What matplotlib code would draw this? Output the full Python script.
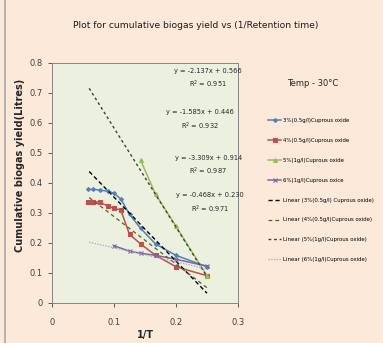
import numpy as np
import matplotlib
matplotlib.use("Agg")
import matplotlib.pyplot as plt
from matplotlib.lines import Line2D

plt.rcParams['font.family'] = ['Liberation Sans Narrow', 'DejaVu Sans Condensed', 'DejaVu Sans']

# 1/T (per day) and cumulative biogas yield (litres)
x_3pct = [0.0588, 0.0667, 0.0769, 0.0909, 0.100, 0.111, 0.125, 0.143, 0.167, 0.200, 0.250]
y_3pct = [0.378, 0.378, 0.376, 0.372, 0.365, 0.346, 0.295, 0.248, 0.196, 0.158, 0.120]
x_4pct = [0.0588, 0.0667, 0.0769, 0.0909, 0.100, 0.111, 0.125, 0.143, 0.167, 0.200, 0.250]
y_4pct = [0.337, 0.337, 0.335, 0.322, 0.315, 0.309, 0.228, 0.196, 0.158, 0.120, 0.090]
x_5pct = [0.143, 0.167, 0.200, 0.250]
y_5pct = [0.475, 0.362, 0.255, 0.090]
x_6pct = [0.100, 0.125, 0.143, 0.167, 0.200, 0.250]
y_6pct = [0.190, 0.172, 0.165, 0.158, 0.145, 0.122]

series_labels = ['3%(0.5g/l)Cuprous oxide', '4%(0.5g/l)Cuprous oxide',
                 '5%(1g/l)Cuprous oxide', '6%(1g/l)Cuprous oxice']
trend_labels = ['Linear (3%(0.5g/l) Cuprous oxide)', 'Linear (4%(0.5g/l)Cuprous oxide)',
                'Linear (5%(1g/l)Cuprous oxide)', 'Linear (6%(1g/l)Cuprous oxide)']

# linear trend lines: slope, intercept, R^2
slopes = [-2.137, -1.585, -3.309, -0.468]
intercepts = [0.566, 0.446, 0.914, 0.230]
r2 = [0.951, 0.932, 0.987, 0.971]
trend_x = [0.06, 0.25]

# where each equation box sits (data coords)
eq_x = [0.252, 0.239, 0.252, 0.255]
eq_y = [0.746, 0.609, 0.456, 0.332]

colors = ['#4F81BD', '#C0504D', '#9BBB59', '#8064A2']
markers = ['D', 's', '^', 'x']
msizes = [2.0, 2.2, 2.8, 3.0]
trend_styles = [
    dict(color='black', dashes=(3, 2), lw=1.0),
    dict(color='#4F6228', dashes=(3, 2.5), lw=0.9),
    dict(color='#404040', dashes=(2, 2), lw=1.0),
    dict(color='#93A9C4', dashes=(1, 1.2), lw=0.9),
]

fig = plt.figure(figsize=(3.83, 3.43), dpi=100)
fig.patch.set_facecolor('#FDE9D9')
fig.add_artist(Line2D([4.5 / 383, 4.5 / 383], [0, 1], color='#A6A6A6', lw=1.2))

ax = fig.add_axes([52 / 383, 40.3 / 343, 186 / 383, 239.7 / 343])
ax.set_facecolor('#EBF1DE')

xs = [x_3pct, x_4pct, x_5pct, x_6pct]
ys = [y_3pct, y_4pct, y_5pct, y_6pct]
handles = []
for i in range(4):
    h, = ax.plot(xs[i], ys[i], color=colors[i], marker=markers[i], ms=msizes[i],
                 mew=0.8, lw=1.1, label=series_labels[i])
    handles.append(h)

tx = np.array(trend_x)
for i in range(4):
    h, = ax.plot(tx, slopes[i] * tx + intercepts[i], label=trend_labels[i], **trend_styles[i])
    handles.append(h)
    ax.text(eq_x[i], eq_y[i], 'y = %.3fx + %.3f\nR$^2$ = %.3f' % (slopes[i], intercepts[i], r2[i]),
            ha='center', va='center', fontsize=4.8, linespacing=1.6, color='#262626')

ax.set_xlim(0, 0.3)
ax.set_ylim(0, 0.8)
ax.set_xticks([0, 0.1, 0.2, 0.3])
ax.set_yticks(np.arange(0, 0.81, 0.1))
ax.set_xticklabels(['0', '0.1', '0.2', '0.3'])
ax.set_yticklabels(['0', '0.1', '0.2', '0.3', '0.4', '0.5', '0.6', '0.7', '0.8'])
ax.tick_params(labelsize=6, colors='#404040', length=3, width=0.6, direction='out')
ax.tick_params(axis='x', pad=8)
for s in ax.spines.values():
    s.set_color('#868686')
    s.set_linewidth(0.7)

fig.text(196 / 383, 1 - 25 / 343, 'Plot for cumulative biogas yield vs (1/Retention time)',
         ha='center', va='center', fontsize=6.6, color='#1a1a1a')
fig.text(145 / 383, 1 - 335 / 343, '1/T', ha='center', va='center', fontsize=7,
         fontweight='bold', color='#262626')
fig.text(20 / 383, 1 - 165 / 343, 'Cumulative biogas yield(Litres)', rotation=90,
         ha='center', va='center', fontsize=7, fontweight='bold', color='#262626')
fig.text(313 / 383, 1 - 83 / 343, 'Temp - 30°C', ha='center', va='center', fontsize=6,
         color='#262626')

fig.legend(handles=handles, loc='upper left', bbox_to_anchor=(268 / 383, 1 - 118 / 343),
           frameon=False, fontsize=3.9, handlelength=2.4, handletextpad=0.3,
           labelspacing=2.75, borderaxespad=0, borderpad=0)

fig.savefig('out.png', dpi=100, facecolor=fig.get_facecolor())
